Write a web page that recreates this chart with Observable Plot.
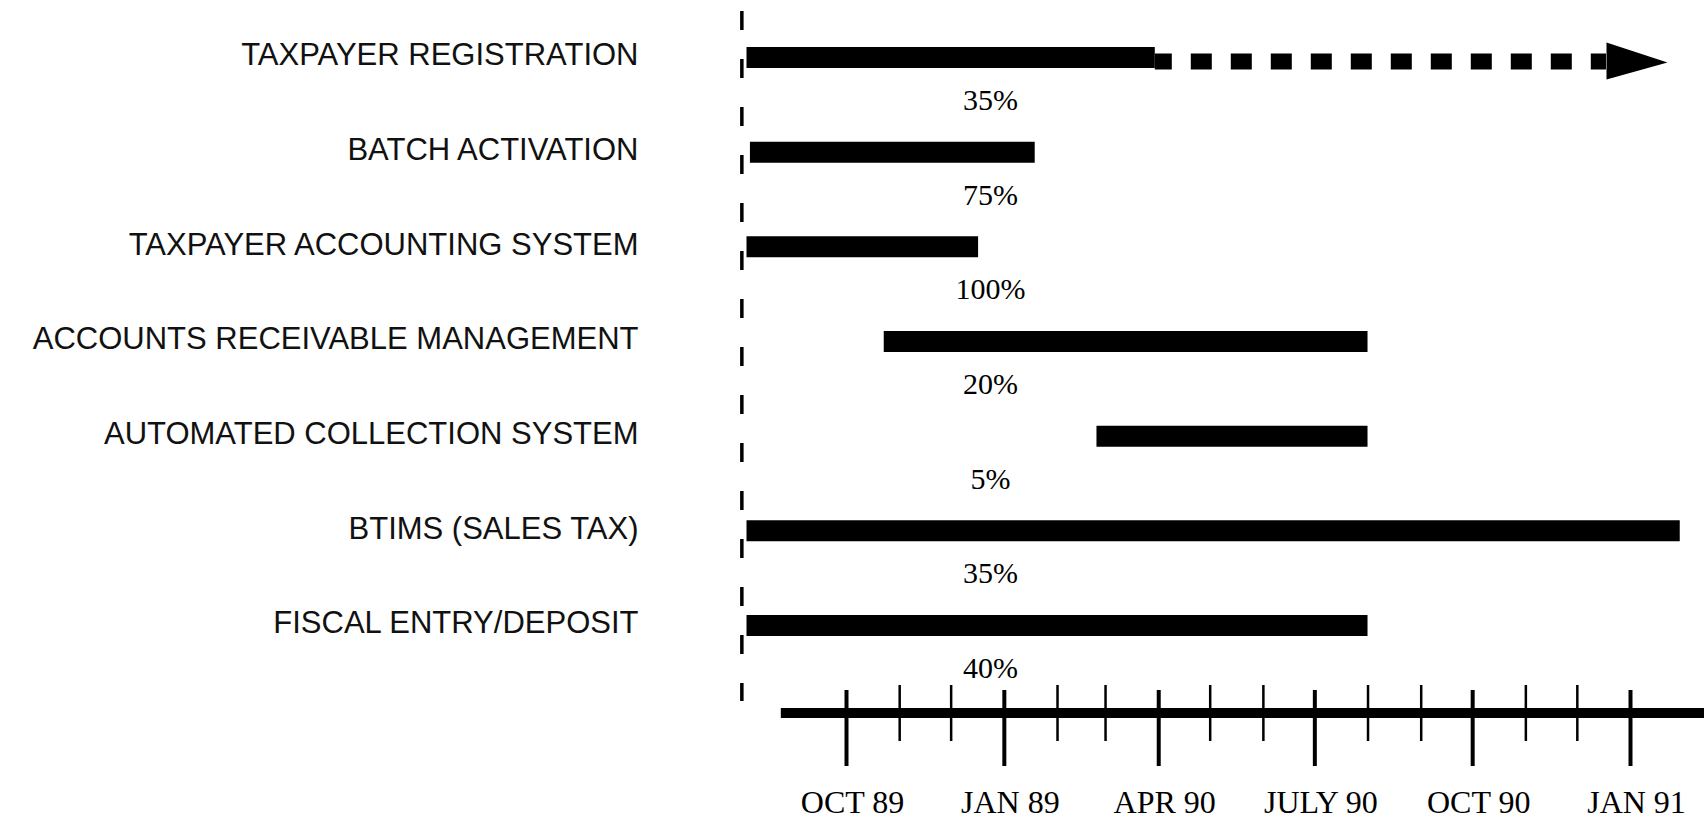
<!DOCTYPE html>
<html>
<head>
<meta charset="utf-8">
<script src="https://cdn.jsdelivr.net/npm/d3@7"></script>
<script src="https://cdn.jsdelivr.net/npm/@observablehq/plot@0.6"></script>
<style>
  html, body { margin: 0; padding: 0; background: #ffffff; }
  #chart svg { display: block; }
</style>
</head>
<body>
<div id="chart"></div>
<script>
// ---- data ----
const tasks = [
  "TAXPAYER REGISTRATION",
  "BATCH ACTIVATION",
  "TAXPAYER ACCOUNTING SYSTEM",
  "ACCOUNTS RECEIVABLE MANAGEMENT",
  "AUTOMATED COLLECTION SYSTEM",
  "BTIMS (SALES TAX)",
  "FISCAL ENTRY/DEPOSIT"
];
const taskStart = ["1989-08-04", "1989-08-06", "1989-08-04", "1989-10-23", "1990-02-24", "1989-08-04", "1989-08-04"];
const taskEnd   = ["1990-03-30", "1990-01-19", "1989-12-17", "1990-08-01", "1990-08-01", "1991-01-30", "1990-08-01"];
const percentComplete = [35, 75, 100, 20, 5, 35, 40];

const extensionTask = "TAXPAYER REGISTRATION";
const extensionEnd = "1990-12-18";

const statusDate = "1989-08-01";
const axisStart = "1989-08-24";
const axisEnd = "1991-03-01";

const minorTickMonths = ["1989-11-01", "1989-12-01", "1990-02-01", "1990-03-01", "1990-05-01",
                         "1990-06-01", "1990-08-01", "1990-09-01", "1990-11-01", "1990-12-01"];
const majorTickMonths = ["1989-10-01", "1990-01-01", "1990-04-01", "1990-07-01", "1990-10-01", "1991-01-01"];
const majorTickLabels = ["OCT 89", "JAN 89", "APR 90", "JULY 90", "OCT 90", "JAN 91"];

// ---- build tables ----
const parse = d3.utcParse("%Y-%m-%d");
const rows = tasks.map((name, i) => ({
  name,
  start: parse(taskStart[i]),
  end: parse(taskEnd[i]),
  pct: percentComplete[i]
}));
const extension = [{
  name: extensionTask,
  from: rows.find(r => r.name === extensionTask).end,
  to: parse(extensionEnd)
}];
const majorTicks = majorTickMonths.map((d, i) => ({date: parse(d), label: majorTickLabels[i]}));
const minorTicks = minorTickMonths.map(d => ({date: parse(d)}));
const axisSpan = [{a: parse(axisStart), b: parse(axisEnd)}];

const arrowHead = {
  draw(ctx) {
    ctx.moveTo(0, -19);
    ctx.lineTo(61, 1);
    ctx.lineTo(0, 18);
    ctx.closePath();
  }
};

const sans = "'Liberation Sans', Arial, sans-serif";
const serif = "'Liberation Serif', 'Times New Roman', serif";

const chart = Plot.plot({
  width: 1704,
  height: 820,
  marginTop: 0, marginRight: 0, marginBottom: 0, marginLeft: 0,
  style: {background: "#ffffff", color: "#000000"},
  x: {type: "utc", domain: [parse("1989-10-01"), parse("1991-01-01")], range: [846, 1630], axis: null},
  y: {type: "point", domain: tasks, range: [57, 625], padding: 0, round: false, axis: null},
  marks: [
    // status date dashed line
    Plot.ruleX([parse(statusDate)], {x: d => d, stroke: "#000", strokeWidth: 3.5,
      strokeDasharray: "19,29", insetTop: 11, insetBottom: 119}),
    // task bars
    Plot.ruleY(rows, {y: "name", x1: "start", x2: "end", stroke: "#000", strokeWidth: 21}),
    // projected extension
    Plot.ruleY(extension, {y: "name", x1: "from", x2: "to", stroke: "#000", strokeWidth: 16,
      strokeDasharray: "21,19", strokeDashoffset: 4, dy: 4}),
    Plot.dot(extension, {y: "name", x: "to", symbol: arrowHead, fill: "#000", stroke: "none", dy: 4}),
    // task labels
    Plot.text(rows, {y: "name", text: "name", frameAnchor: "left", dx: 638, dy: -2,
      textAnchor: "end", fontSize: 31, fontFamily: sans, fill: "#111"}),
    // percent complete labels
    Plot.text(rows, {y: "name", text: d => d.pct + "%", frameAnchor: "left", dx: 990, dy: 43,
      textAnchor: "middle", fontSize: 30, fontFamily: serif, fill: "#000"}),
    // time axis line
    Plot.rect(axisSpan, {x1: "a", x2: "b", fill: "#000", insetTop: 708, insetBottom: 102}),
    // minor ticks
    Plot.ruleX(minorTicks, {x: "date", stroke: "#000", strokeWidth: 2.5, insetTop: 685, insetBottom: 79}),
    // major ticks
    Plot.ruleX(majorTicks, {x: "date", stroke: "#000", strokeWidth: 4, insetTop: 690, insetBottom: 54}),
    // tick labels
    Plot.text(majorTicks, {x: "date", text: "label", frameAnchor: "top", lineAnchor: "middle",
      dy: 802, dx: 6, textAnchor: "middle", fontSize: 32, fontFamily: serif, fill: "#000"})
  ]
});

document.getElementById("chart").appendChild(chart);
</script>
</body>
</html>
